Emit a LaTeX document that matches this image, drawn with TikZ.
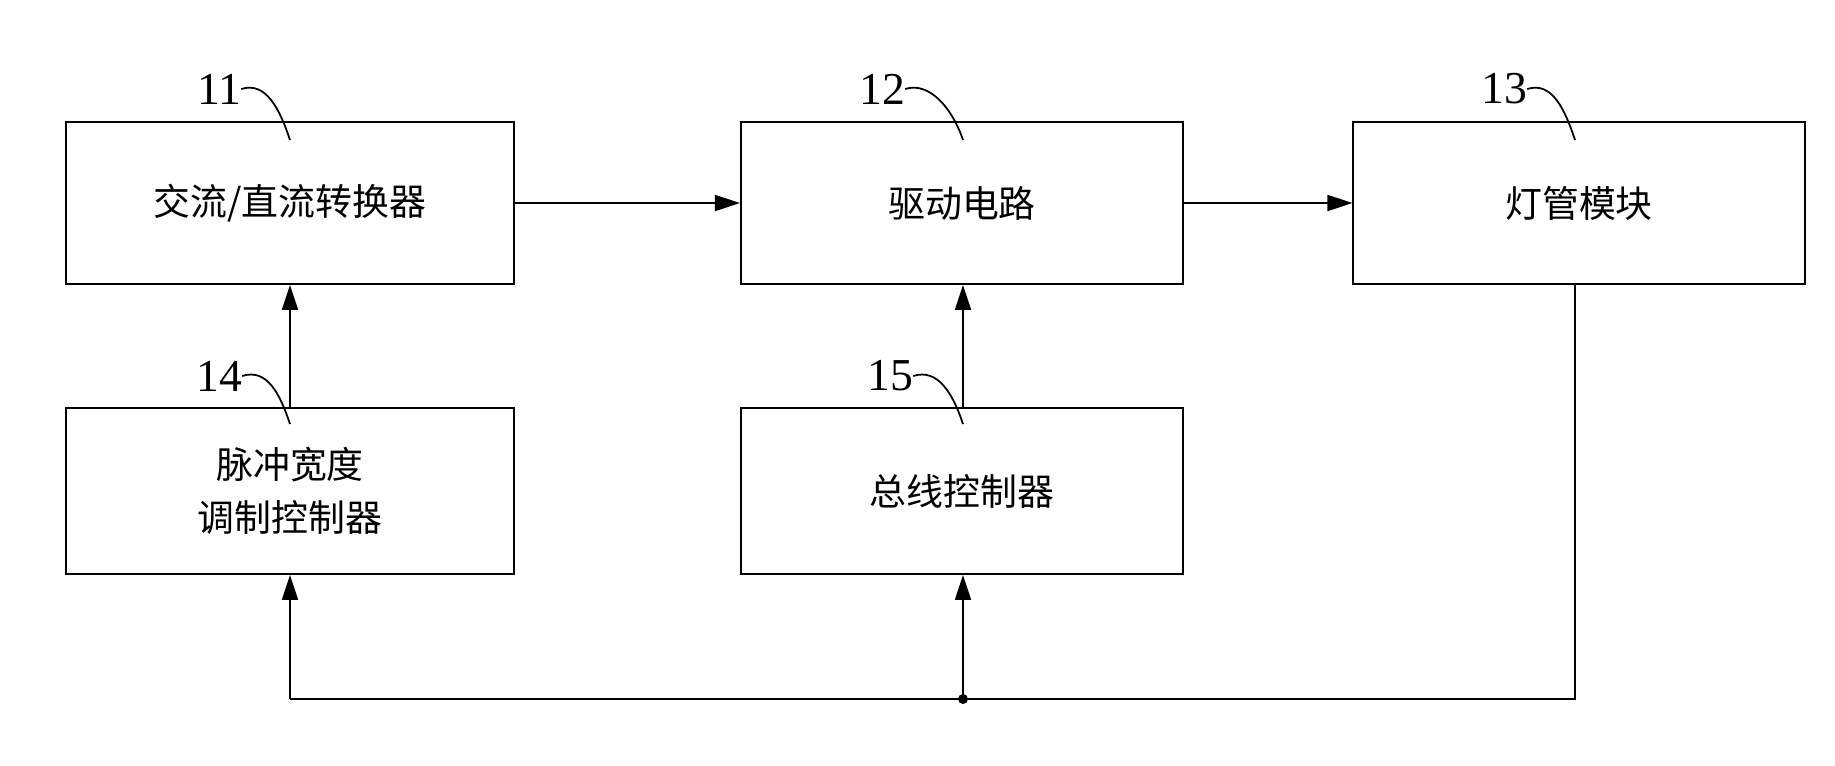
\documentclass[tikz,border=0pt]{standalone}
\usepackage{fontspec}
\setmainfont{Liberation Serif}
\newfontfamily\cjk{Noto Sans CJK SC}
\usetikzlibrary{arrows.meta,calc}
\begin{document}
\begin{tikzpicture}[x=0.02cm,y=-0.02cm,
  box/.style={draw,line width=1.1pt,minimum width=9cm-1pt,inner sep=0pt,font=\cjk\fontsize{21}{30}\selectfont,align=center},
  con/.style={line width=1pt,-{Triangle[length=0.5cm,width=0.32cm]}},
  lead/.style={line width=1pt},
  num/.style={font=\fontsize{26}{26}\selectfont,inner sep=0pt}]
\useasboundingbox (0,0) rectangle (1835,765);
\node[box,minimum height=3.24cm] (b11) at (290,203) {交流/直流转换器};
\node[box,minimum height=3.24cm,minimum width=8.88cm-1pt] (b12) at (962,203) {驱动电路};
\node[box,minimum height=3.24cm,minimum width=9.06cm-1pt] (b13) at (1579,203) {灯管模块};
\node[box,minimum height=3.32cm] (b14) at (290,491) {脉冲宽度\\调制控制器};
\node[box,minimum height=3.32cm,minimum width=8.88cm-1pt] (b15) at (962,491) {总线控制器};
\node[num] (n11) at (219,89) {11};
\node[num] (n12) at (882,89) {12};
\node[num] (n13) at (1504,89) {13};
\node[num] (n14) at (219,376) {14};
\node[num] (n15) at (890,376) {15};
\coordinate (e11) at (290,140);
\coordinate (e12) at (963,140);
\coordinate (e13) at (1575,140);
\coordinate (e14) at (290,424);
\coordinate (e15) at (963,424);
\foreach \n in {11,12,13,14,15}
  \draw[lead] (n\n.east) .. controls ($(n\n.east)+(25,-8)$) and ($(e\n)+(-10,-30)$) .. (e\n);
\draw[con] (b11.east) -- (b12.west);
\draw[con] (b12.east) -- (b13.west);
\draw[con] (b14.north) -- (b11.south);
\draw[con] (b15.north -| e15) -- (b12.south -| e15);
\coordinate (dot) at (963,699);
\coordinate (rc) at (1575,699);
\coordinate (lc) at (290,699);
\draw[lead] (b13.south -| rc) -- (rc) -- (lc);
\draw[con] (lc) -- (b14.south);
\draw[con] (dot) -- (b15.south -| dot);
\fill (dot) circle (5);
\end{tikzpicture}
\end{document}
